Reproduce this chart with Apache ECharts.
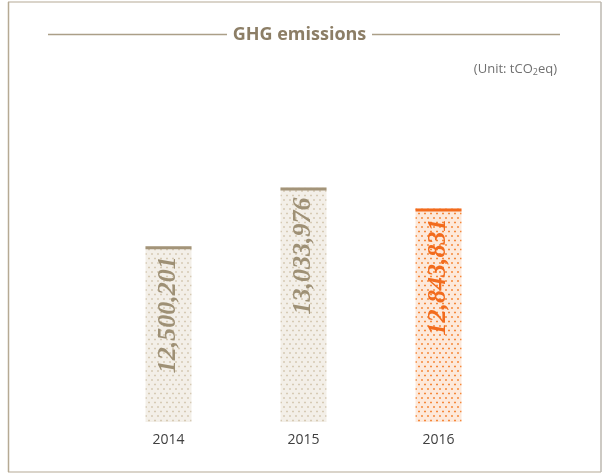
<!DOCTYPE html>
<html>
<head>
<meta charset="utf-8">
<script src="https://cdn.jsdelivr.net/npm/echarts@6/dist/echarts.min.js"></script>
<style>
html,body{margin:0;padding:0;background:#fff;}
#chart{width:607px;height:474px;}
</style>
</head>
<body>
<div id="chart"></div>
<script>
const categories = ['2014', '2015', '2016'];
const values = [12500201, 13033976, 12843831];
const titleText = 'GHG emissions';

function makePattern(bg, dot) {
  const c = document.createElement('canvas');
  c.width = 6; c.height = 9;
  const ctx = c.getContext('2d');
  ctx.fillStyle = bg;
  ctx.fillRect(0, 0, 6, 9);
  ctx.fillStyle = dot;
  [[1, 1], [4, 5.5]].forEach(function (p) {
    ctx.fillRect(p[0], p[1] + 0.5, 2, 1);
    ctx.fillRect(p[0] + 0.5, p[1], 1, 2);
  });
  return c;
}
const beigePat = makePattern('#f3efe8', '#d6cab4');
const orangePat = makePattern('#fde9db', '#f5883a');
const beige = '#9e9075';
const orange = '#f26b1d';

const chart = echarts.init(document.getElementById('chart'));
chart.setOption({
  animation: false,
  grid: { left: 101, right: 101, top: 98, bottom: 52 },
  xAxis: {
    type: 'category',
    data: categories,
    axisLine: { show: false },
    axisTick: { show: false },
    axisLabel: { margin: 11, color: '#404040', fontSize: 14, fontFamily: 'Open Sans' }
  },
  yAxis: {
    type: 'value', min: 10900000, max: 13850000, show: false,
    splitLine: { show: false }
  },
  series: [
    {
      type: 'bar',
      barWidth: 46,
      data: values.map(function (v, i) {
        const last = i === values.length - 1;
        return {
          value: v,
          itemStyle: { color: { image: last ? orangePat : beigePat, repeat: 'repeat' } },
          label: { color: last ? orange : beige }
        };
      }),
      label: {
        show: true,
        position: [23, 10],
        rotate: 90,
        align: 'right',
        verticalAlign: 'middle',
        fontFamily: 'Liberation Serif',
        fontStyle: 'italic',
        fontWeight: 'bold',
        fontSize: 26,
        formatter: function (p) { return p.value.toLocaleString('en-US'); }
      }
    },
    {
      type: 'scatter',
      symbol: 'rect',
      symbolSize: [46, 3],
      symbolOffset: [0, 1.5],
      z: 5,
      silent: true,
      data: values.map(function (v, i) {
        return { value: v, itemStyle: { color: i === values.length - 1 ? orange : '#a39479', opacity: 1 } };
      })
    }
  ],
  graphic: [
    { type: 'line', shape: { x1: 8, y1: 2, x2: 601, y2: 2 }, style: { stroke: '#dad4ca', lineWidth: 2 } },
    { type: 'line', shape: { x1: 8, y1: 472, x2: 601, y2: 472 }, style: { stroke: '#dad4ca', lineWidth: 2 } },
    { type: 'line', shape: { x1: 8.5, y1: 2, x2: 8.5, y2: 472 }, style: { stroke: '#b6aa94', lineWidth: 1.5 } },
    { type: 'line', shape: { x1: 601, y1: 2, x2: 601, y2: 472 }, style: { stroke: '#bdb8b0', lineWidth: 1.5 } },
    { type: 'line', shape: { x1: 48, y1: 34.5, x2: 227, y2: 34.5 }, style: { stroke: '#ab9f88', lineWidth: 1.5 } },
    { type: 'line', shape: { x1: 372, y1: 34.5, x2: 560, y2: 34.5 }, style: { stroke: '#ab9f88', lineWidth: 1.5 } },
    {
      type: 'text', x: 299.5, y: 35,
      style: {
        text: titleText, fill: '#8c7e66', font: 'bold 18px "Open Sans"',
        textAlign: 'center', textVerticalAlign: 'middle'
      }
    },
    {
      type: 'text', x: 557, y: 69,
      style: {
        text: '{a|(Unit: tCO}{s|2}{a|eq)}',
        textAlign: 'right', textVerticalAlign: 'middle',
        rich: {
          a: { fontSize: 13, fontFamily: 'Open Sans', fill: '#707070' },
          s: { fontSize: 9, fontFamily: 'Open Sans', fill: '#707070', padding: [6, 0, 0, 0] }
        }
      }
    }
  ]
});
</script>
</body>
</html>
